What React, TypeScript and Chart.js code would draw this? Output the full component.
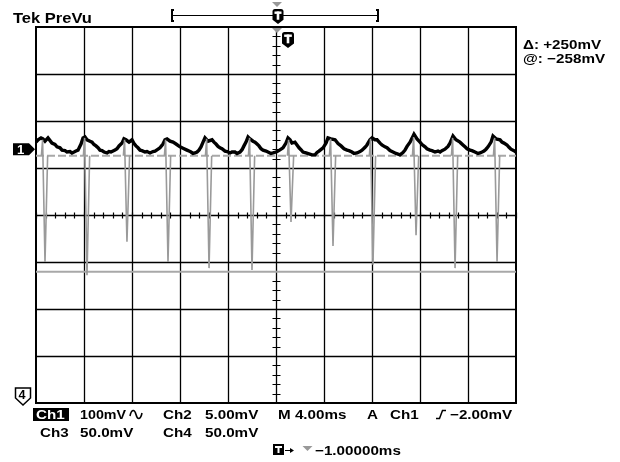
import React, { useEffect, useRef } from "react";
import { Chart, registerables } from "chart.js";

Chart.register(...registerables);

// Horizontal: time in ms relative to screen centre (4 ms/div, 10 div)
// Vertical: Ch1 in mV (100 mV/div, 8 div)
const timeRange: [number, number] = [-20, 20];
const mvRange: [number, number] = [-400, 400];
const msPerDiv = 4;
const mvPerDiv = 100;

// Ch1 (black) trace: [time ms, mV]
const ch1Trace: [number, number][] = [
  [-20, 155], [-19.83, 160], [-19.58, 164], [-19.42, 162], [-19.25, 157], [-19.0, 164],
  [-18.67, 153], [-18.42, 150], [-18.25, 145], [-18.0, 143], [-17.83, 138], [-17.58, 137], [-17.42, 134], [-17.17, 135], [-17.0, 132], [-16.83, 134], [-16.67, 136],
  [-16.5, 138], [-16.25, 151], [-16.08, 164], [-15.92, 166], [-15.75, 160], [-15.5, 157],
  [-15.33, 155], [-15.17, 150], [-15.0, 147], [-14.83, 143], [-14.67, 138], [-14.5, 137], [-14.33, 134], [-14.08, 132], [-13.92, 135], [-13.75, 134],
  [-13.42, 138], [-13.25, 141], [-13.08, 147], [-12.83, 153], [-12.67, 162], [-12.5, 160], [-12.25, 155],
  [-12.0, 160], [-11.83, 152], [-11.67, 147], [-11.5, 143], [-11.33, 138], [-11.17, 137], [-10.92, 134], [-10.75, 135], [-10.5, 132], [-10.25, 135], [-10.08, 136],
  [-9.83, 140], [-9.67, 143], [-9.42, 151], [-9.25, 160], [-9.08, 162], [-8.83, 157], [-8.58, 155],
  [-8.33, 151], [-8.0, 145], [-7.75, 142], [-7.42, 138], [-7.25, 136], [-7.08, 134], [-6.92, 131], [-6.75, 132], [-6.58, 134], [-6.42, 138], [-6.25, 145], [-6.08, 155],
  [-5.92, 164], [-5.67, 157], [-5.33, 160], [-5.17, 155], [-5.0, 151], [-4.83, 146], [-4.67, 143], [-4.5, 141], [-4.25, 136], [-4.08, 135],
  [-3.83, 132], [-3.67, 134], [-3.42, 134], [-3.25, 131], [-3.0, 134], [-2.83, 139], [-2.67, 147], [-2.5, 155], [-2.33, 166], [-2.17, 162],
  [-1.92, 157], [-1.75, 155], [-1.58, 151], [-1.42, 147], [-1.25, 141], [-1.08, 138], [-0.83, 136], [-0.67, 134], [-0.42, 131], [-0.25, 132],
  [0.0, 134], [0.17, 136], [0.42, 140], [0.58, 143], [0.83, 153], [1.0, 164], [1.17, 160], [1.33, 153],
  [1.58, 155], [1.75, 149], [1.92, 143], [2.08, 139], [2.25, 134], [2.5, 132], [2.75, 130], [3.0, 128], [3.25, 128], [3.42, 133], [3.58, 136],
  [3.92, 143], [4.17, 153], [4.33, 164], [4.58, 162], [4.92, 160], [5.17, 152], [5.42, 147], [5.67, 141],
  [5.92, 138], [6.08, 137], [6.33, 134], [6.5, 131], [6.75, 132], [7.0, 135], [7.17, 138], [7.42, 144], [7.58, 149], [7.83, 160],
  [8.0, 164], [8.25, 160], [8.42, 160], [8.67, 153], [8.83, 149], [9.08, 145], [9.25, 143], [9.5, 137], [9.75, 134], [10.0, 131],
  [10.33, 128], [10.58, 133], [10.75, 138], [10.92, 146], [11.17, 155], [11.33, 163], [11.5, 172], [11.75, 162], [12.0, 155],
  [12.17, 150], [12.42, 145], [12.58, 141], [12.83, 138], [13.0, 137], [13.25, 134], [13.5, 136], [13.67, 134], [13.83, 137], [14.08, 140], [14.33, 146], [14.5, 153],
  [14.75, 168], [15.0, 160], [15.33, 155], [15.58, 149], [15.75, 145], [15.92, 141], [16.17, 138], [16.33, 137], [16.58, 134], [16.83, 131],
  [17.0, 132], [17.17, 134], [17.33, 136], [17.5, 140], [17.67, 145], [17.92, 155], [18.08, 168], [18.33, 162],
  [18.67, 160], [18.83, 155], [19.0, 153], [19.25, 149], [19.42, 144], [19.58, 140], [19.83, 137], [20.0, 134],
];

// Grey channel: spike times (ms) and spike minima (mV)
const spikeTimes = [-19.25, -15.75, -12.42, -9.0, -5.58, -2.0, 1.25, 4.75, 8.08, 11.67, 14.92, 18.42];
const spikeMinima = [-100, -128, -57, -100, -113, -117, -15, -66, -106, -43, -113, -100];
const spikeTops = [160, 164, 160, 160, 162, 164, 160, 162, 162, 166, 164, 164];
const greyBaseline = 126; // mV
const greyReference = -121; // mV
const ch1Ground = 140; // mV (marker "1")
const ch4Ground = -385; // mV (marker "4")

const FONT = '"Liberation Sans", Arial, Helvetica, sans-serif';

function txt(ctx: CanvasRenderingContext2D, s: string, x: number, y: number, size: number, color = "#000", sx = 1.17) {
  ctx.save();
  ctx.translate(x, y);
  ctx.scale(sx, 1);
  ctx.font = `bold ${size}px ${FONT}`;
  ctx.fillStyle = color;
  ctx.textBaseline = "alphabetic";
  ctx.fillText(s, 0, 0);
  ctx.restore();
}

function tShield(ctx: CanvasRenderingContext2D, cx: number, top: number, w: number, h: number) {
  const l = cx - w / 2, r = cx + w / 2, mid = top + h * 0.72, r0 = 2.5;
  ctx.beginPath();
  ctx.moveTo(l, top + r0);
  ctx.quadraticCurveTo(l, top, l + r0, top);
  ctx.lineTo(r - r0, top);
  ctx.quadraticCurveTo(r, top, r, top + r0);
  ctx.lineTo(r, mid);
  ctx.lineTo(cx, top + h);
  ctx.lineTo(l, mid);
  ctx.closePath();
  ctx.fillStyle = "#000";
  ctx.fill();
  ctx.fillStyle = "#fff";
  const tw = w * 0.64;
  ctx.fillRect(cx - tw / 2, top + 2.5, tw, 2.4);
  ctx.fillRect(cx - 1.3, top + 2.5, 2.6, h * 0.55);
}

function triDown(ctx: CanvasRenderingContext2D, cx: number, top: number, w: number, h: number, color: string) {
  ctx.beginPath();
  ctx.moveTo(cx - w / 2, top);
  ctx.lineTo(cx + w / 2, top);
  ctx.lineTo(cx, top + h);
  ctx.closePath();
  ctx.fillStyle = color;
  ctx.fill();
}

const scopePlugin = {
  id: "scope",
  beforeDraw(chart: any) {
    const { ctx } = chart;
    ctx.save();
    ctx.fillStyle = "#fff";
    ctx.fillRect(0, 0, chart.width, chart.height);
    ctx.restore();
  },
  beforeDatasetsDraw(chart: any) {
    const { ctx, chartArea: a, scales } = chart;
    const xs = scales.x, ys = scales.y;
    ctx.save();
    ctx.strokeStyle = "#000";
    ctx.lineWidth = 1.3;
    ctx.beginPath();
    for (let t = timeRange[0] + msPerDiv; t < timeRange[1]; t += msPerDiv) {
      const px = Math.round(xs.getPixelForValue(t)) + 0.5;
      ctx.moveTo(px, a.top);
      ctx.lineTo(px, a.bottom);
    }
    for (let v = mvRange[0] + mvPerDiv; v < mvRange[1]; v += mvPerDiv) {
      const py = Math.round(ys.getPixelForValue(v)) + 0.5;
      ctx.moveTo(a.left, py);
      ctx.lineTo(a.right, py);
    }
    ctx.stroke();
    // minor ticks on centre lines
    const cx = Math.round(xs.getPixelForValue(0)) + 0.5;
    const cy = Math.round(ys.getPixelForValue(0)) + 0.5;
    ctx.lineWidth = 1.2;
    ctx.beginPath();
    for (let t = timeRange[0]; t <= timeRange[1] + 1e-6; t += msPerDiv / 5) {
      const px = Math.round(xs.getPixelForValue(t)) + 0.5;
      ctx.moveTo(px, cy - 3);
      ctx.lineTo(px, cy + 3);
    }
    for (let v = mvRange[0]; v <= mvRange[1] + 1e-6; v += mvPerDiv / 5) {
      const py = Math.round(ys.getPixelForValue(v)) + 0.5;
      ctx.moveTo(cx - 4, py);
      ctx.lineTo(cx + 4, py);
    }
    ctx.stroke();
    // border
    ctx.lineWidth = 2;
    ctx.strokeRect(a.left, a.top, a.right - a.left, a.bottom - a.top);
    ctx.restore();
  },
  afterDraw(chart: any) {
    const { ctx, chartArea: a, scales } = chart;
    const xs = scales.x, ys = scales.y;
    const cx = xs.getPixelForValue(0);
    ctx.save();
    // header
    txt(ctx, "Tek PreVu", 13, 23, 14, "#000", 1.18);
    ctx.strokeStyle = "#000";
    ctx.lineWidth = 1;
    ctx.beginPath();
    ctx.moveTo(172, 15.5);
    ctx.lineTo(378, 15.5);
    ctx.stroke();
    ctx.lineWidth = 2;
    ctx.beginPath();
    ctx.moveTo(174, 10);
    ctx.lineTo(172, 10);
    ctx.lineTo(172, 21);
    ctx.lineTo(174, 21);
    ctx.moveTo(376, 10);
    ctx.lineTo(378, 10);
    ctx.lineTo(378, 21);
    ctx.lineTo(376, 21);
    ctx.stroke();
    triDown(ctx, cx + 1, 2, 10, 5, "#999");
    tShield(ctx, cx + 2, 9, 11, 15);
    // trigger markers on the graticule
    triDown(ctx, cx + 1, a.top + 1, 10, 5, "#999");
    tShield(ctx, cx + 12, a.top + 5, 12, 16);
    // readouts right
    txt(ctx, "Δ: +250mV", 523, 49, 13);
    txt(ctx, "@: −258mV", 523, 63, 13);
    // channel 1 ground marker
    const g1 = ys.getPixelForValue(ch1Ground);
    ctx.beginPath();
    ctx.moveTo(13, g1 - 6);
    ctx.lineTo(29, g1 - 6);
    ctx.lineTo(35, g1);
    ctx.lineTo(29, g1 + 6);
    ctx.lineTo(13, g1 + 6);
    ctx.closePath();
    ctx.fillStyle = "#000";
    ctx.fill();
    txt(ctx, "1", 17, g1 + 4.5, 12, "#fff", 1.1);
    // channel 4 marker
    const g4 = ys.getPixelForValue(ch4Ground);
    ctx.beginPath();
    ctx.moveTo(15.5, g4 - 8);
    ctx.lineTo(30.5, g4 - 8);
    ctx.lineTo(30.5, g4 + 2);
    ctx.lineTo(23, g4 + 9);
    ctx.lineTo(15.5, g4 + 2);
    ctx.closePath();
    ctx.fillStyle = "#fff";
    ctx.fill();
    ctx.lineWidth = 1.5;
    ctx.strokeStyle = "#000";
    ctx.stroke();
    txt(ctx, "4", 18.5, g4 + 3, 12, "#000", 1.05);
    // bottom readouts
    ctx.fillStyle = "#000";
    ctx.fillRect(33, 408, 36, 13);
    txt(ctx, "Ch1", 36, 419, 13, "#fff");
    txt(ctx, "100mV", 80, 419, 13, "#000", 1.1);
    // AC coupling symbol (sine wave)
    ctx.strokeStyle = "#000";
    ctx.lineWidth = 1.6;
    ctx.beginPath();
    ctx.moveTo(130, 416);
    ctx.bezierCurveTo(131.5, 409, 134.5, 409, 136, 414.5);
    ctx.bezierCurveTo(137.5, 420, 140.5, 420, 142, 413);
    ctx.stroke();
    txt(ctx, "Ch2", 163, 419, 13);
    txt(ctx, "5.00mV", 205, 419, 13);
    txt(ctx, "M 4.00ms", 278, 419, 13);
    txt(ctx, "A", 367, 419, 13);
    txt(ctx, "Ch1", 390, 419, 13);
    ctx.lineWidth = 1.5;
    ctx.strokeStyle = "#000";
    ctx.beginPath();
    ctx.moveTo(436, 418.5);
    ctx.lineTo(439.5, 418.5);
    ctx.lineTo(442.5, 410.5);
    ctx.lineTo(446, 410.5);
    ctx.stroke();
    txt(ctx, "−2.00mV", 450, 419, 13);
    txt(ctx, "Ch3", 40, 437, 13);
    txt(ctx, "50.0mV", 80, 437, 13);
    txt(ctx, "Ch4", 163, 437, 13);
    txt(ctx, "50.0mV", 205, 437, 13);
    // trigger position readout
    ctx.fillStyle = "#000";
    ctx.fillRect(273, 444, 11, 11);
    ctx.fillStyle = "#fff";
    ctx.fillRect(275, 446, 7, 2);
    ctx.fillRect(277.5, 446, 2, 7);
    ctx.strokeStyle = "#000";
    ctx.lineWidth = 1;
    ctx.beginPath();
    ctx.moveTo(285, 450.5);
    ctx.lineTo(293, 450.5);
    ctx.stroke();
    ctx.beginPath();
    ctx.moveTo(294, 450.5);
    ctx.lineTo(290, 448);
    ctx.lineTo(290, 453);
    ctx.closePath();
    ctx.fillStyle = "#000";
    ctx.fill();
    triDown(ctx, 307.5, 446, 10, 5, "#999");
    txt(ctx, "−1.00000ms", 315, 455, 13);
    ctx.restore();
  },
};

function buildSpikes() {
  const pts: { x: number; y: number | null }[] = [];
  spikeTimes.forEach((s, i) => {
    pts.push({ x: s - 0.3, y: greyBaseline });
    pts.push({ x: s - 0.2, y: spikeTops[i] });
    pts.push({ x: s, y: spikeMinima[i] });
    pts.push({ x: s + 0.22, y: greyBaseline });
    pts.push({ x: s + 0.3, y: null });
  });
  return pts;
}

export default function App() {
  const ref = useRef<HTMLCanvasElement>(null);
  useEffect(() => {
    document.body.style.margin = "0";
    const canvas = ref.current!;
    const chart = new Chart(canvas, {
      type: "line",
      data: {
        datasets: [
          {
            label: "Ch2 baseline",
            data: [
              { x: timeRange[0], y: greyBaseline },
              { x: timeRange[1], y: greyBaseline },
            ],
            borderColor: "#a8a8a8",
            borderWidth: 2,
            borderDash: [8, 3],
            pointRadius: 0,
            order: 4,
          },
          {
            label: "Reference",
            data: [
              { x: timeRange[0], y: greyReference },
              { x: timeRange[1], y: greyReference },
            ],
            borderColor: "#a8a8a8",
            borderWidth: 2,
            pointRadius: 0,
            order: 3,
          },
          {
            label: "Ch1",
            data: ch1Trace.map(([x, y]) => ({ x, y })),
            borderColor: "#000",
            borderWidth: 3.4,
            pointRadius: 0,
            borderJoinStyle: "miter",
            order: 2,
          },
          {
            label: "Ch2",
            data: buildSpikes() as any,
            borderColor: "#9a9a9a",
            borderWidth: 1.6,
            pointRadius: 0,
            spanGaps: false,
            order: 1,
          },
        ],
      },
      options: {
        animation: false,
        responsive: false,
        maintainAspectRatio: false,
        events: [],
        layout: { padding: { left: 36, right: 104, top: 27, bottom: 59 } },
        plugins: { legend: { display: false }, tooltip: { enabled: false }, title: { display: false } },
        elements: { line: { tension: 0 }, point: { radius: 0 } },
        scales: {
          x: { type: "linear", min: timeRange[0], max: timeRange[1], display: false },
          y: { type: "linear", min: mvRange[0], max: mvRange[1], display: false },
        },
      },
      plugins: [scopePlugin],
    });
    return () => chart.destroy();
  }, []);
  return (
    <div style={{ position: "absolute", left: 0, top: 0, width: 620, height: 462 }}>
      <canvas ref={ref} width={620} height={462} style={{ display: "block", width: 620, height: 462 }} />
    </div>
  );
}
